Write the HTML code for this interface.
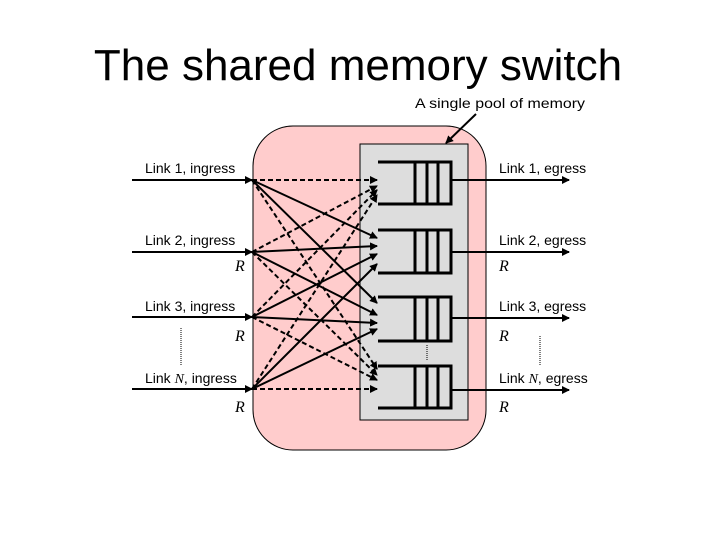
<!DOCTYPE html>
<html><head><style>
body{margin:0;background:#fff;width:720px;height:540px;overflow:hidden}
svg{display:block}
text{font-family:"Liberation Sans",Arial,sans-serif}
.r{font-family:"Liberation Serif",serif;font-style:italic;font-size:16px}
</style></head><body>
<svg width="720" height="540" viewBox="0 0 720 540">
<defs>
<marker id="a" markerWidth="8" markerHeight="8" refX="7" refY="4" orient="auto" markerUnits="userSpaceOnUse"><path d="M0,0 L8,4 L0,8 Z" fill="#000"/></marker>
</defs>
<text x="358" y="80" font-size="44" text-anchor="middle">The shared memory switch</text>
<text x="415" y="108" font-size="14" textLength="170" lengthAdjust="spacingAndGlyphs">A single pool of memory</text>
<rect x="253" y="126" width="233" height="324" rx="40" fill="#ffcccc" stroke="#000" stroke-width="1"/>
<rect x="360" y="144" width="108" height="276" fill="#dddddd" stroke="#000" stroke-width="1"/>
<line x1="476" y1="114" x2="446" y2="143" stroke="#000" stroke-width="2" marker-end="url(#a)"/>
<g stroke="#000" stroke-width="3" fill="none">
<path d="M378,162 H451 V204 H378 M415,162 V204 M427,162 V204 M438,162 V204"/>
<path d="M378,230 H451 V273 H378 M415,230 V273 M427,230 V273 M438,230 V273"/>
<path d="M378,297 H451 V341 H378 M415,297 V341 M427,297 V341 M438,297 V341"/>
<path d="M378,366 H451 V408 H378 M415,366 V408 M427,366 V408 M438,366 V408"/>
</g>
<g stroke="#000" stroke-width="2">
<line x1="132" y1="180" x2="252" y2="180" marker-end="url(#a)"/>
<line x1="132" y1="252" x2="252" y2="252" marker-end="url(#a)"/>
<line x1="132" y1="317" x2="252" y2="317" marker-end="url(#a)"/>
<line x1="132" y1="389" x2="252" y2="389" marker-end="url(#a)"/>
<line x1="451" y1="180" x2="569" y2="180" marker-end="url(#a)"/>
<line x1="451" y1="252" x2="569" y2="252" marker-end="url(#a)"/>
<line x1="451" y1="318" x2="569" y2="318" marker-end="url(#a)"/>
<line x1="451" y1="390" x2="569" y2="390" marker-end="url(#a)"/>
</g>
<g stroke="#000" stroke-width="2" stroke-dasharray="5,3">
<line x1="252" y1="180" x2="377" y2="180" marker-end="url(#a)"/>
<line x1="252" y1="252" x2="377" y2="186" marker-end="url(#a)"/>
<line x1="252" y1="317" x2="377" y2="190" marker-end="url(#a)"/>
<line x1="252" y1="389" x2="377" y2="195" marker-end="url(#a)"/>
<line x1="252" y1="180" x2="377" y2="369" marker-end="url(#a)"/>
<line x1="252" y1="252" x2="377" y2="375" marker-end="url(#a)"/>
<line x1="252" y1="317" x2="377" y2="380" marker-end="url(#a)"/>
<line x1="252" y1="389" x2="377" y2="389" marker-end="url(#a)"/>
</g>
<g stroke="#000" stroke-width="2">
<line x1="252" y1="180" x2="377" y2="238" marker-end="url(#a)"/>
<line x1="252" y1="252" x2="377" y2="246" marker-end="url(#a)"/>
<line x1="252" y1="317" x2="377" y2="254" marker-end="url(#a)"/>
<line x1="252" y1="389" x2="377" y2="264" marker-end="url(#a)"/>
<line x1="252" y1="180" x2="377" y2="303" marker-end="url(#a)"/>
<line x1="252" y1="252" x2="377" y2="315" marker-end="url(#a)"/>
<line x1="252" y1="317" x2="377" y2="323" marker-end="url(#a)"/>
<line x1="252" y1="389" x2="377" y2="329" marker-end="url(#a)"/>
</g>
<g stroke="#000" stroke-width="1" stroke-dasharray="1,1">
<line x1="181" y1="328" x2="181" y2="366"/>
<line x1="540" y1="336" x2="540" y2="366"/>
<line x1="427" y1="345" x2="427" y2="360"/>
</g>
<g font-size="14">
<text x="145" y="173">Link 1, ingress</text>
<text x="145" y="245">Link 2, ingress</text>
<text x="145" y="311">Link 3, ingress</text>
<text x="145" y="383">Link <tspan font-family="Liberation Serif" font-style="italic">N</tspan>, ingress</text>
<text x="499" y="173">Link 1, egress</text>
<text x="499" y="245">Link 2, egress</text>
<text x="499" y="311">Link 3, egress</text>
<text x="499" y="383">Link <tspan font-family="Liberation Serif" font-style="italic">N</tspan>, egress</text>
</g>
<text class="r" x="235" y="271">R</text>
<text class="r" x="235" y="341">R</text>
<text class="r" x="235" y="412">R</text>
<text class="r" x="499" y="271">R</text>
<text class="r" x="499" y="341">R</text>
<text class="r" x="499" y="412">R</text>
</svg>
</body></html>
